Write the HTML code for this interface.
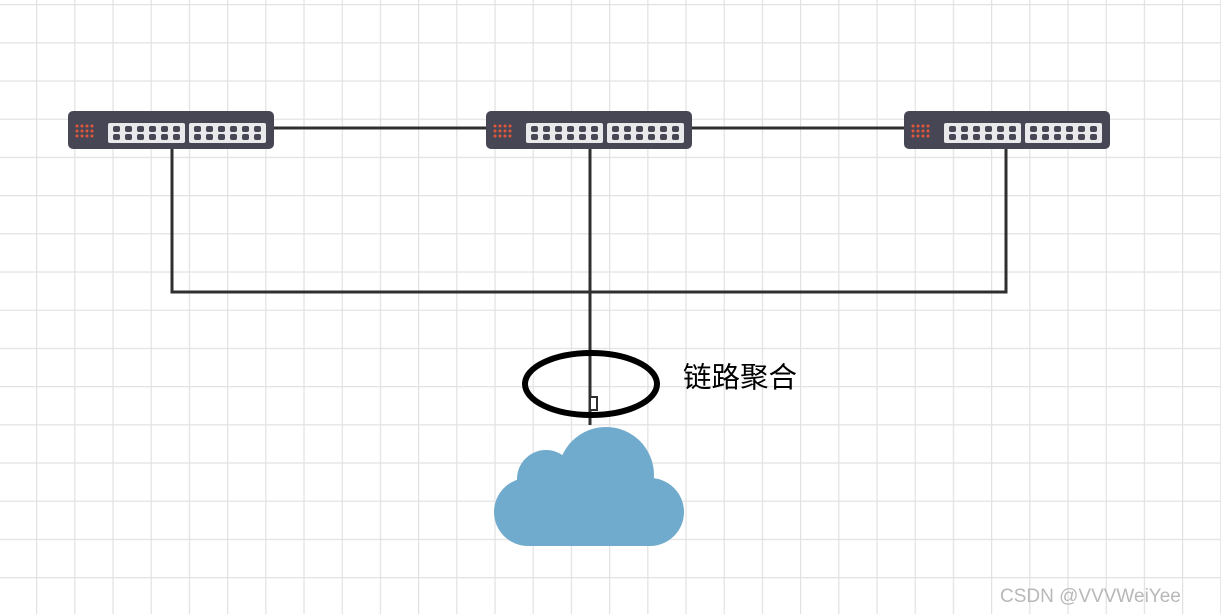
<!DOCTYPE html>
<html><head><meta charset="utf-8"><style>
html,body{margin:0;padding:0;background:#fff;}
body{width:1221px;height:614px;overflow:hidden;position:relative;font-family:"Liberation Sans","Noto Sans CJK SC",sans-serif;}
</style></head><body>
<svg width="1221" height="614" style="position:absolute;left:0;top:0">
<defs>
<pattern id="g" x="36" y="4" width="38.2" height="38.2" patternUnits="userSpaceOnUse">
<path d="M0 0V38.2M0 0H38.2" stroke="#e2e2e2" stroke-width="2.5" fill="none"/>
</pattern>
<g id="sw">
<rect x="0" y="0" width="206" height="38" rx="5" fill="#474654"/>
<g fill="#e2573a">
<circle cx="9" cy="15" r="1.5"/><circle cx="14" cy="15" r="1.5"/><circle cx="19" cy="15" r="1.5"/><circle cx="24" cy="15" r="1.5"/>
<circle cx="9" cy="20" r="1.5"/><circle cx="14" cy="20" r="1.5"/><circle cx="19" cy="20" r="1.5"/><circle cx="24" cy="20" r="1.5"/>
<circle cx="9" cy="25" r="1.5"/><circle cx="14" cy="25" r="1.5"/><circle cx="19" cy="25" r="1.5"/><circle cx="24" cy="25" r="1.5"/>
</g>
<rect x="40" y="12" width="77" height="20" rx="2" fill="#e9e9ec"/>
<rect x="121" y="12" width="77" height="20" rx="2" fill="#e9e9ec"/>
<g fill="#474654">
<rect x="45" y="15" width="7" height="6" rx="2"/><rect x="57" y="15" width="7" height="6" rx="2"/><rect x="69" y="15" width="7" height="6" rx="2"/><rect x="81" y="15" width="7" height="6" rx="2"/><rect x="93" y="15" width="7" height="6" rx="2"/><rect x="105" y="15" width="7" height="6" rx="2"/>
<rect x="45" y="23" width="7" height="6" rx="2"/><rect x="57" y="23" width="7" height="6" rx="2"/><rect x="69" y="23" width="7" height="6" rx="2"/><rect x="81" y="23" width="7" height="6" rx="2"/><rect x="93" y="23" width="7" height="6" rx="2"/><rect x="105" y="23" width="7" height="6" rx="2"/>
<rect x="126" y="15" width="7" height="6" rx="2"/><rect x="138" y="15" width="7" height="6" rx="2"/><rect x="150" y="15" width="7" height="6" rx="2"/><rect x="162" y="15" width="7" height="6" rx="2"/><rect x="174" y="15" width="7" height="6" rx="2"/><rect x="186" y="15" width="7" height="6" rx="2"/>
<rect x="126" y="23" width="7" height="6" rx="2"/><rect x="138" y="23" width="7" height="6" rx="2"/><rect x="150" y="23" width="7" height="6" rx="2"/><rect x="162" y="23" width="7" height="6" rx="2"/><rect x="174" y="23" width="7" height="6" rx="2"/><rect x="186" y="23" width="7" height="6" rx="2"/>
</g>
</g>
</defs>
<rect width="1221" height="614" fill="url(#g)"/>
<g stroke="#2f2f2f" stroke-width="3" fill="none">
<path d="M274 128H486M692 128H904"/>
<path d="M172 149V292H1006V149"/>
<path d="M590 149V425"/>
</g>
<rect x="590" y="397" width="7" height="13" fill="#fff" stroke="#2f2f2f" stroke-width="2"/>
<use href="#sw" x="68" y="111"/>
<use href="#sw" x="486" y="111"/>
<use href="#sw" x="904" y="111"/>
<ellipse cx="591" cy="384" rx="66" ry="31" fill="none" stroke="#000" stroke-width="6"/>
<g fill="#70aacc">
<circle cx="606" cy="475" r="48"/>
<circle cx="546" cy="479" r="29"/>
<circle cx="650" cy="512" r="34"/>
<circle cx="528" cy="512" r="34"/>
<rect x="528" y="480" width="122" height="66"/>
</g>
<text x="683" y="387" font-size="28.5" fill="#000" font-family="Liberation Sans,Noto Sans CJK SC,sans-serif">链路聚合</text>
<text x="1000" y="602" font-size="19" fill="#b8b8b8" font-family="Liberation Sans,sans-serif">CSDN @VVVWeiYee</text>
</svg>
</body></html>
